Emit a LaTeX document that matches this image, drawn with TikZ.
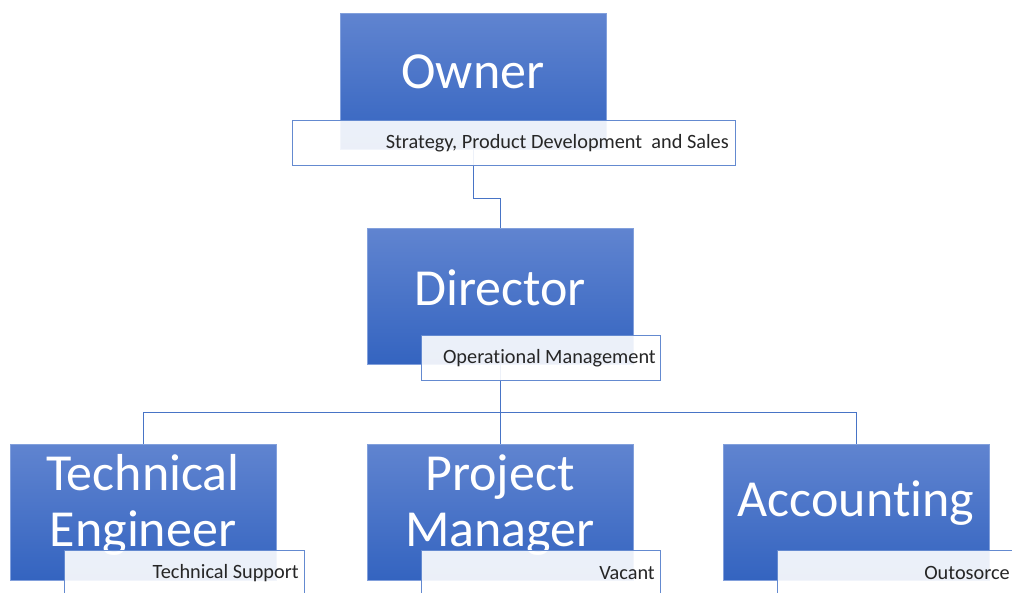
\documentclass[tikz,border=0pt]{standalone}
\usepackage{fontspec}
\setmainfont{Carlito}[Ligatures=NoCommon,Contextuals=NoAlternate]
\begin{document}
\begin{tikzpicture}[x=1pt,y=-1pt]
\definecolor{boxtop}{RGB}{96,132,208}
\definecolor{boxbot}{RGB}{52,100,192}
\definecolor{boxline}{RGB}{130,160,220}
\definecolor{subline}{RGB}{100,138,208}
\definecolor{conn}{RGB}{72,116,198}
\tikzset{
  rolebox/.style={rectangle, minimum width=266pt, minimum height=136pt, inner sep=0pt,
    top color=boxtop, bottom color=boxbot, draw=boxline, line width=0.6pt},
  roletext/.style={text=white, font=\fontsize{52}{56}\selectfont, align=center, inner sep=0pt},
  subbox/.style={rectangle, anchor=north west, inner sep=0pt, fill=white, fill opacity=0.9,
    draw=subline, line width=0.9pt},
  subtext/.style={font=\fontsize{20.3}{24}\selectfont, text=black!85, anchor=east, inner sep=0pt},
  link/.style={draw=conn, line width=1pt}
}
\useasboundingbox[clip] (0,0) rectangle (1012,592);
\fill[white] (0,0) rectangle (1012,592);
% role boxes
\node[rolebox] (owner) at (473,81) {};
\node[rolebox] (director) at (500,296.5) {};
\node[rolebox] (tech) at (143,512) {};
\node[rolebox] (pm) at (500,512) {};
\node[rolebox] (acc) at (856,512) {};
% connectors
\coordinate (bar) at (500,412.5);
\draw[link] (owner.south) -- ++(0,49.5) -| (director.north);
\draw[link] (director.south) -- (director.south |- bar);
\draw[link] (tech.north) |- (bar) -| (acc.north);
\draw[link] (pm.north) -- (pm.north |- bar);
% role texts
\node[roletext] (ownerT) at (473,72) {Owner};
\node[roletext] (directorT) at (500,288) {Director};
\node[roletext] (techT) at (143,505) {Technical\\Engineer};
\node[roletext] (pmT) at (500,505) {Project\\Manager};
\node[roletext] (accT) at (856,503) {Accounting};
% sub boxes
\node[subbox, minimum width=443pt, minimum height=45pt] (ownerS) at (292,120) {};
\node[subbox, minimum width=239pt, minimum height=45pt] (directorS) at (421,335) {};
\node[subbox, minimum width=240pt, minimum height=60pt] (techS) at (64,550) {};
\node[subbox, minimum width=239pt, minimum height=60pt] (pmS) at (421,550) {};
\node[subbox, minimum width=260pt, minimum height=60pt] (accS) at (777,550) {};
% sub texts
\node[subtext] (ownerST) at (729,143) {Strategy, Product Development\ \ and Sales};
\node[subtext] (directorST) at (656,358) {Operational Management};
\node[subtext] (techST) at (299,573) {Technical Support};
\node[subtext] (pmST) at (655,573) {Vacant};
\node[subtext] (accST) at (1010,573) {Outosorce};
\end{tikzpicture}
\end{document}
